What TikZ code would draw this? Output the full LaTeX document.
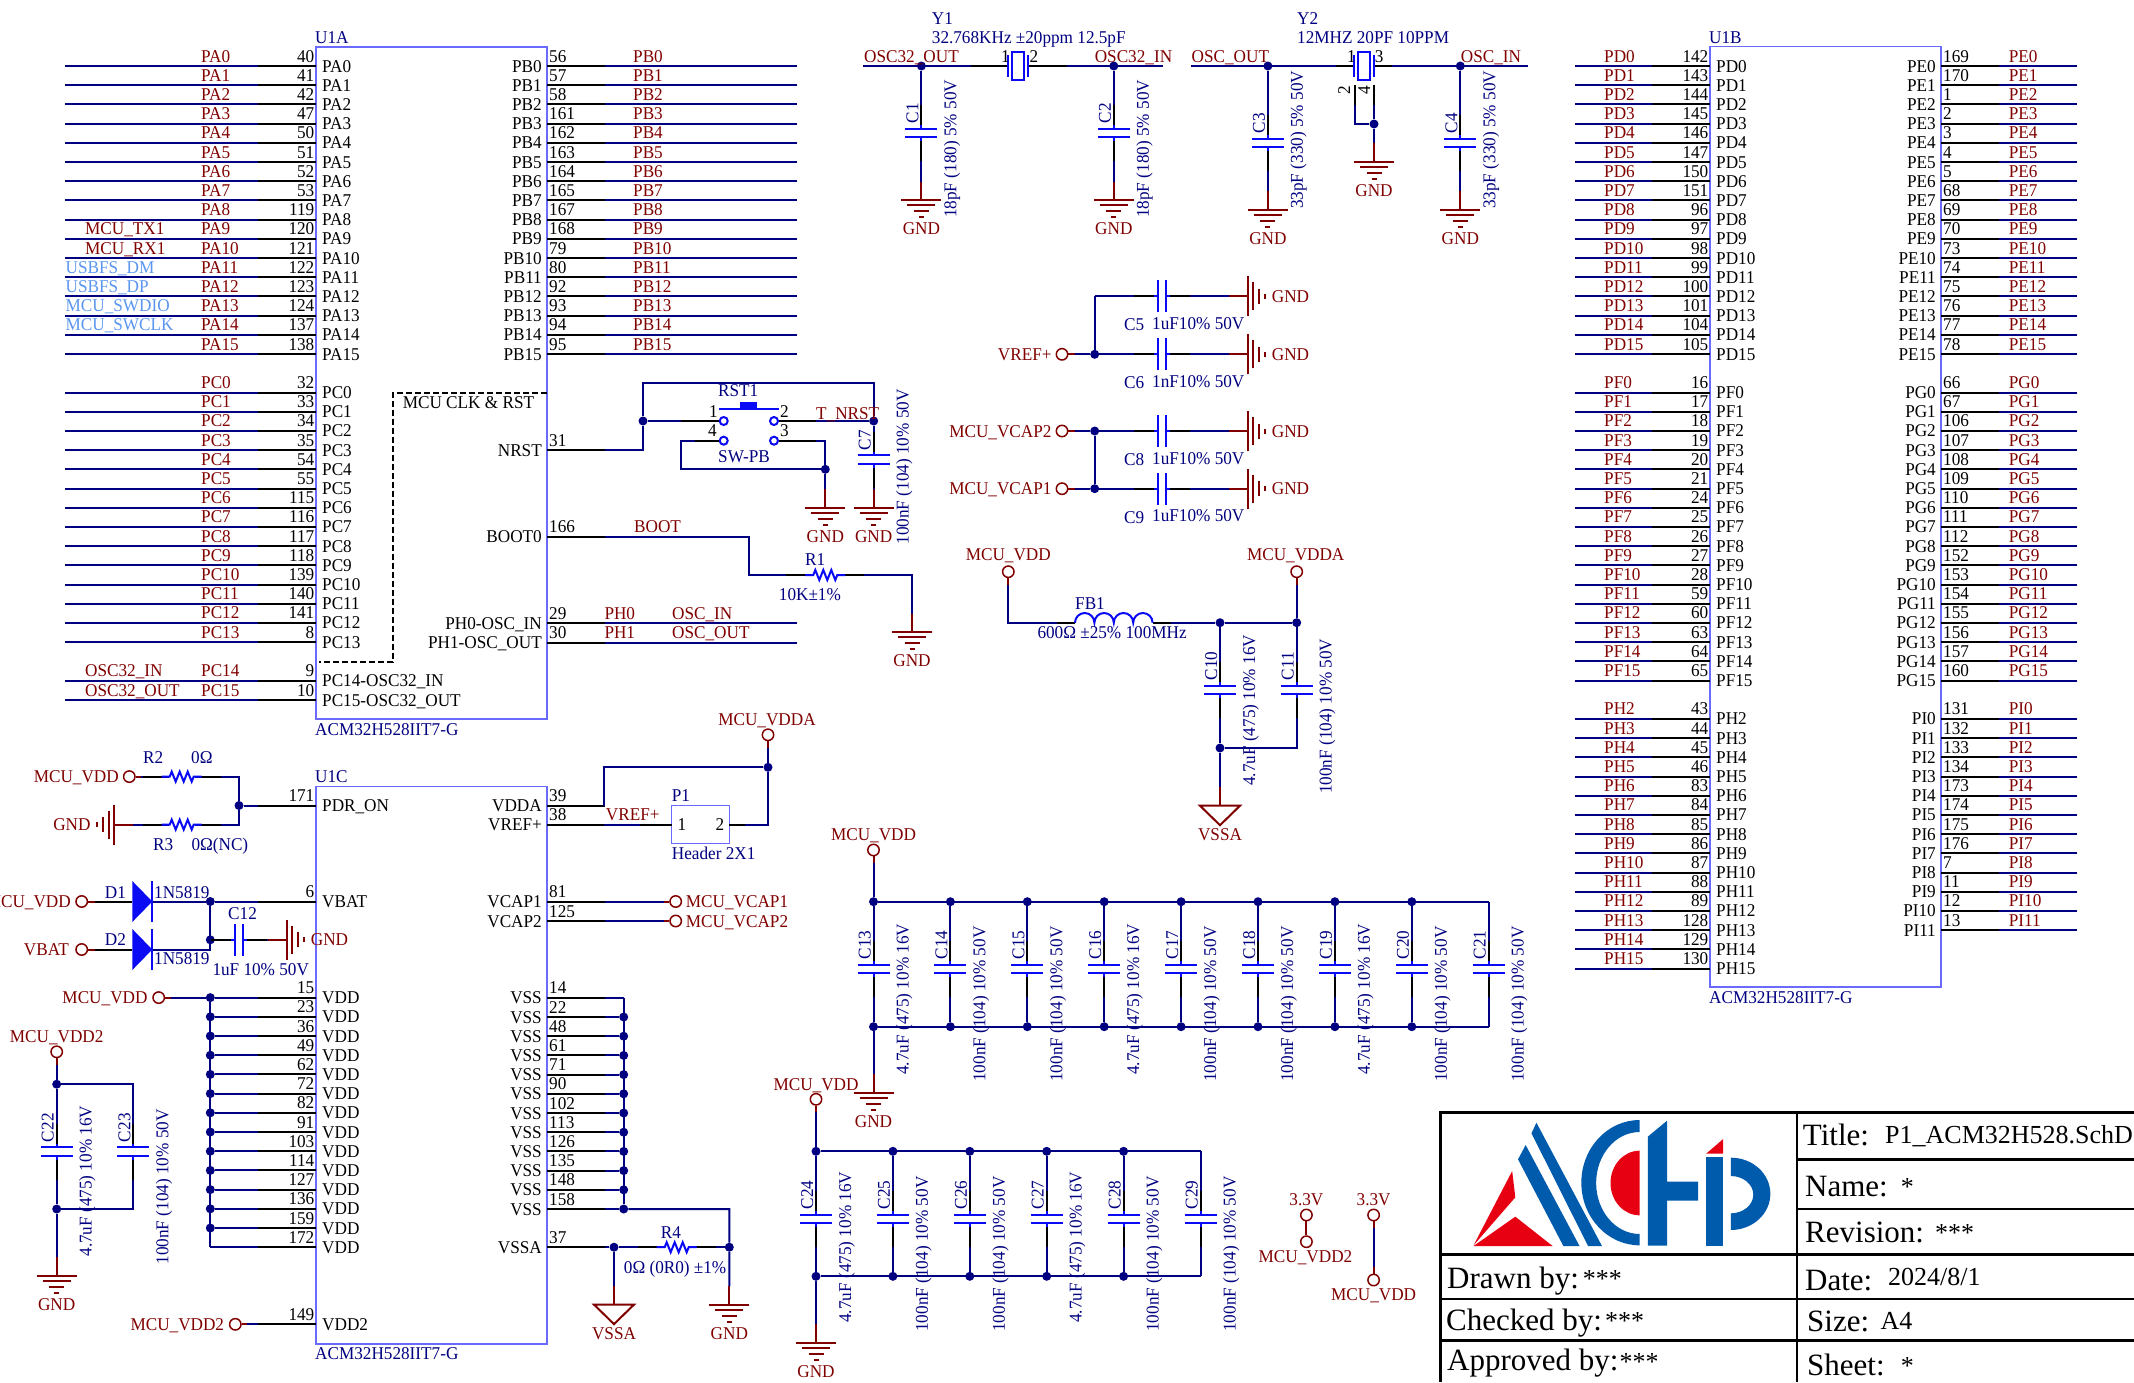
\documentclass[tikz,border=0pt]{standalone}
\usepackage{fontspec}
\setmainfont[FakeStretch=0.955]{Liberation Serif}
\newfontfamily\titlefont{Liberation Serif}
\definecolor{wirec}{HTML}{000080}
\definecolor{netc}{HTML}{800000}
\definecolor{partc}{HTML}{0A0AF5}
\definecolor{chipc}{HTML}{6A6AFF}
\definecolor{sigc}{HTML}{5A96F0}
\definecolor{logob}{HTML}{005BAC}
\definecolor{logor}{HTML}{E60012}
\newcommand\schfont{\fontsize{18}{20}\selectfont}
\newcommand\capA{4.7uF (475) 10\% 16V}
\newcommand\capB{100nF (104) 10\% 50V}
\tikzset{
  wire/.style={wirec,line width=2pt},
  lead/.style={black,line width=2pt},
  portw/.style={netc,line width=2pt},
  part/.style={partc,line width=2pt},
  chip/.style={chipc,line width=1.5pt},
  frame/.style={black,line width=2.5pt},
  txt/.style={font=\schfont,inner sep=0pt},
  netl/.style={txt,text=netc},
  desig/.style={txt,text=wirec},
  pinl/.style={txt,text=black},
  bw/.style={anchor=base west},
  be/.style={anchor=base east},
  bc/.style={anchor=base},
  upt/.style={rotate=90,anchor=base west},
  junc/.style={circle,fill=wirec,inner sep=0pt,minimum size=9pt},
  port/.style={circle,draw=netc,line width=1.5pt,inner sep=0pt,minimum size=11.4pt},
  swpin/.style={circle,draw=partc,line width=2pt,inner sep=0pt,minimum size=8pt},
  titl/.style={inner sep=0pt,font=\titlefont\fontsize{31}{33}\selectfont,bw},
  tval/.style={inner sep=0pt,font=\titlefont\fontsize{26}{28}\selectfont,bw},
  gnd/.pic={
    \draw[portw] (0,-19) -- (0,0);
    \draw[portw] (-20,0) -- (20,0) (-14,5) -- (14,5) (-7.5,11) -- (7.5,11) (-2.5,17) -- (2.5,17);},
  vssa/.pic={
    \draw[portw] (0,-19) -- (0,0);
    \draw[portw] (-20,0) -- (20,0) -- (0,19.5) -- cycle;},
  capv/.pic={
    \fill[white] (-8,-3.4) rectangle (8,3.4);
    \draw[lead] (0,-28) -- (0,-8) (0,8) -- (0,28);
    \draw[part] (-16,-4.3) -- (16,-4.3) (-16,4.3) -- (16,4.3) (0,-8) -- (0,-4.3) (0,4.3) -- (0,8);},
  res/.pic={
    \fill[white] (-13,-6) rectangle (13,6);
    \draw[lead] (-39,0) -- (-20,0) (20,0) -- (39,0);
    \draw[part] (-20,0) -- (-12,0) -- (-10,-5) -- (-6,5) -- (-2,-5) -- (2,5) -- (6,-5) -- (10,5) -- (12,0) -- (20,0);},
  xtal/.pic={
    \fill[white] (-9,-13) rectangle (9,13);
    \draw[part] (-9.6,-11) -- (-9.6,11) (9.6,-11) -- (9.6,11) (-6,-14) rectangle (6,14);},
  diode/.pic={
    \fill[partc] (0,-20.5) -- (20,0) -- (0,20.5) -- cycle;
    \draw[part] (20,-20.5) -- (20,20.5);},
}
% left side pin of the chip: box x, y, number, name
\newcommand\lpin[4]{
  \coordinate (c#3) at (#1,#2);
  \coordinate (k#3) at (#1-58,#2);
  \draw[lead] (k#3) -- (c#3);
  \node[pinl,be] (p#3) at (#1-1.5,#2-4) {#3};
  \node[pinl,bw] (s#3) at (#1+6,#2+6) {#4};}
\newcommand\rpin[4]{
  \coordinate (c#3) at (#1,#2);
  \coordinate (k#3) at (#1+58,#2);
  \draw[lead] (k#3) -- (c#3);
  \node[pinl,bw] (p#3) at (#1+2,#2-4) {#3};
  \node[pinl,be] (s#3) at (#1-5,#2+6) {#4};}
% a row of pins: box x, wire end, label x, first y, list
\newcommand\lbus[5]{\foreach \net/\num [count=\k from 0] in {#5}{
  \pgfmathsetmacro\yy{#4+19.2*\k}
  \lpin{#1}{\yy}{\num}{\net}
  \draw[wire] (k\num) -- (#2,\yy);
  \node[netl,bw] (n\num) at (#3,\yy-4) {\net};}}
\newcommand\rbus[5]{\foreach \net/\num [count=\k from 0] in {#5}{
  \pgfmathsetmacro\yy{#4+19.2*\k}
  \rpin{#1}{\yy}{\num}{\net}
  \draw[wire] (k\num) -- (#2,\yy);
  \node[netl,bw] (n\num) at (#3,\yy-4) {\net};}}
\newcommand\gndv[3]{
  \coordinate (#1) at (#2,#3);
  \pic at (#1) {gnd};
  \node[netl,bc] (#1t) at (#2,#3+34.5) {GND};}
\newcommand\vssav[3]{
  \coordinate (#1) at (#2,#3);
  \pic at (#1) {vssa};
  \node[netl,bc] (#1t) at (#2,#3+35) {VSSA};}
% x, y, name, value, how far the value runs down
\newcommand\vcap[5]{
  \pic at (#1,#2) {capv};
  \node[desig,upt] (#3) at (#1-3,#2-9.5) {#3};
  \node[desig,upt] (v#3) at (#1+35,#2+#5) {#4};}
% the sideways ones, to GND on the right
\newcommand\hcap[3]{
  \coordinate (w#1) at (1094.7,#2);
  \coordinate (g#1) at (1248,#2);
  \draw[wire] (w#1) -- (g#1);
  \pic[rotate=90] at (1162,#2) {capv};
  \pic[rotate=90] at (g#1) {gnd};
  \node[netl,bw] (g#1t) at (1271.7,#2+6) {GND};
  \node[desig,bw] (#1) at (1124,#2+34.4) {#1};
  \node[desig,bw] (v#1) at (1152,#2+33) {#3};}
\begin{document}
\begin{tikzpicture}[x=1pt,y=-1pt]
\useasboundingbox (0,0) rectangle (2134,1382);

% U1A
\draw[chip] (316,47) rectangle (547,719);
\node[desig,bw] (u1a) at (315,43) {U1A};
\node[desig,bw] (u1an) at (315,735) {ACM32H528IIT7-G};
\lbus{316}{65.4}{201}{66}{PA0/40,PA1/41,PA2/42,PA3/47,PA4/50,PA5/51,PA6/52,PA7/53,PA8/119,PA9/120,PA10/121,PA11/122,PA12/123,PA13/124,PA14/137,PA15/138}
\lbus{316}{65.4}{201}{392.5}{PC0/32,PC1/33,PC2/34,PC3/35,PC4/54,PC5/55,PC6/115,PC7/116,PC8/117,PC9/118,PC10/139,PC11/140,PC12/141,PC13/8}
\rbus{547}{797}{633}{66}{PB0/56,PB1/57,PB2/58,PB3/161,PB4/162,PB5/163,PB6/164,PB7/165,PB8/167,PB9/168,PB10/79,PB11/80,PB12/92,PB13/93,PB14/94,PB15/95}
\lpin{316}{680.7}{9}{PC14-OSC32\_IN}
\lpin{316}{700}{10}{PC15-OSC32\_OUT}
\draw[wire] (k9) -- (65.4,680.7);
\draw[wire] (k10) -- (65.4,700);
\node[netl,bw] (n9) at (201,676.7) {PC14};
\node[netl,bw] (n10) at (201,696) {PC15};
\node[netl,bw] (osc32i) at (85,676.7) {OSC32\_IN};
\node[netl,bw] (osc32o) at (85,696) {OSC32\_OUT};
\node[netl,bw] (tx1) at (85,234.8) {MCU\_TX1};
\node[netl,bw] (rx1) at (85,254) {MCU\_RX1};
\foreach \sig [count=\k from 11] in {USBFS\_DM,USBFS\_DP,MCU\_SWDIO,MCU\_SWCLK}{
  \node[txt,text=sigc,bw] (sig\k) at (65.4,62+19.2*\k) {\sig};}

\coordinate (da) at (547,392.7);
\coordinate (db) at (393,392.7);
\coordinate (dc) at (393,661.7);
\coordinate (dd) at (319,661.7);
\draw[lead,dash pattern=on 6pt off 3pt] (da) -- (db) -- (dc) -- (dd);
\node[pinl,bw] (clkrst) at (402.6,408) {MCU CLK \& RST};

% reset and boot
\rpin{547}{450}{31}{NRST}
\rpin{547}{536.7}{166}{BOOT0}
\rpin{547}{623.3}{29}{PH0-OSC\_IN}
\rpin{547}{642.5}{30}{PH1-OSC\_OUT}
\draw[wire] (k29) -- (797,623.3);
\draw[wire] (k30) -- (797,642.5);
\node[netl,bw] (ph0) at (604.3,619.3) {PH0};
\node[netl,bw] (ph1) at (604.3,638.5) {PH1};
\node[netl,bw] (oscin) at (672,619.3) {OSC\_IN};
\node[netl,bw] (oscout) at (672,638.5) {OSC\_OUT};
\node[netl,bw] (boot) at (634,532.7) {BOOT};

\node[junc] (jn) at (643,421) {};
\node[junc] (jr) at (873.7,421) {};
\node[junc] (js) at (825.3,469.3) {};
\coordinate (nt) at (873.7,382.7);
\coordinate (sl) at (681.3,469.3);
\node[swpin] (sw1) at (723.7,421) {};
\node[swpin] (sw2) at (774,421) {};
\node[swpin] (sw3) at (774,440.7) {};
\node[swpin] (sw4) at (723.7,440.7) {};
\gndv{g7a}{825.3}{507.7}
\gndv{g7b}{873.7}{507.7}
\draw[wire] (k31) -| (jn);
\draw[wire] (jn) |- (nt) -- (jr);
\draw[wire] (jn) -- (sw1);
\draw[wire] (sw2) -- (jr);
\draw[wire] (sw4) -| (sl) -- (js);
\draw[wire] (sw3) -| (js);
\draw[wire] (js) -- (825.3,489);
\draw[wire] (jr) -- (873.7,489);
\draw[lead] (681.3,421) -- (sw1);
\draw[lead] (sw2) -- (816,421);
\draw[lead] (sw3) -- (816,440.7);
\draw[lead] (sw4) -- (695,440.7);
\draw[part] (719,408.7) -- (778.7,408.7);
\fill[partc] (740,401.7) rectangle (757.3,408);
\node[desig,bw] (rst1) at (718,396) {RST1};
\node[desig,bw] (swpb) at (718,462) {SW-PB};
\node[pinl,be] (sn1) at (718,417.7) {1};
\node[pinl,bw] (sn2) at (780,417.7) {2};
\node[pinl,be] (sn4) at (717,436.7) {4};
\node[pinl,bw] (sn3) at (780,436.7) {3};
\node[netl,bw] (tnrst) at (816,419) {T\_NRST};
\vcap{873.7}{459.7}{C7}{\capB}{85}

\coordinate (b1) at (749,536.7);
\coordinate (b2) at (749,575);
\coordinate (b3) at (912,575);
\gndv{g1}{912}{632.3}
\draw[wire] (k166) -- (b1) -- (b2) -- (b3) -- (912,614);
\pic at (825.3,575) {res};
\node[desig,bw] (r1) at (805,565) {R1};
\node[desig,bw] (r1v) at (778.7,600) {10K±1\%};

% crystals
\node[desig,bw] (y1) at (931.7,24) {Y1};
\node[desig,bw] (y1v) at (931.7,43.3) {32.768KHz ±20ppm 12.5pF};
\node[desig,bw] (y2) at (1297,24) {Y2};
\node[desig,bw] (y2v) at (1297,43.3) {12MHZ 20PF 10PPM};
\node[junc] (j1) at (921.4,66) {};
\node[junc] (j2) at (1113.8,66) {};
\node[junc] (j3) at (1267.9,66) {};
\node[junc] (j4) at (1460.3,66) {};
\node[junc] (j5) at (1374,124) {};
\draw[wire] (863.4,66) -- (1162.5,66);
\draw[wire] (1190.6,66) -- (1527.7,66);
\draw[lead] (970.5,66) -- (1066.5,66);
\draw[lead] (1335.7,66) -- (1392.4,66);
\pic at (1018,66) {xtal};
\pic at (1364,66) {xtal};
\node[pinl,bw] (y1a) at (1001,62) {1};
\node[pinl,bw] (y1b) at (1029.5,62) {2};
\node[pinl,bw] (y2a) at (1347,62) {1};
\node[pinl,bw] (y2b) at (1374.6,62) {3};
\node[netl,bw] (ly1a) at (864,62) {OSC32\_OUT};
\node[netl,bw] (ly1b) at (1094.6,62) {OSC32\_IN};
\node[netl,bw] (ly2a) at (1191.5,62) {OSC\_OUT};
\node[netl,bw] (ly2b) at (1460.7,62) {OSC\_IN};
\coordinate (y2l) at (1354.5,85);
\coordinate (y2c) at (1354.5,124);
\coordinate (y2r) at (1374,85);
\draw[wire] (y2l) -- (y2c) -- (j5);
\draw[wire] (y2r) -- (j5) -- (1374,143);
\draw[lead] (y2l) -- (1354.5,105);
\draw[lead] (y2r) -- (1374,105);
\node[pinl,upt] (y2d) at (1350,95) {2};
\node[pinl,upt] (y2e) at (1370,95) {4};
\gndv{g2}{1374}{162.3}
\gndv{g3}{921.4}{200.3}
\gndv{g4}{1113.8}{200.3}
\gndv{g5}{1267.9}{210}
\gndv{g6}{1460.3}{210}
\draw[wire] (j1) -- (921.4,182);
\draw[wire] (j2) -- (1113.8,182);
\draw[wire] (j3) -- (1267.9,191);
\draw[wire] (j4) -- (1460.3,191);
\vcap{921.4}{133}{C1}{18pF (180) 5\% 50V}{85}
\vcap{1113.8}{133}{C2}{18pF (180) 5\% 50V}{85}
\vcap{1267.9}{143}{C3}{33pF (330) 5\% 50V}{66}
\vcap{1460.3}{143}{C4}{33pF (330) 5\% 50V}{66}

% reference and vcap capacitors
\hcap{C5}{296.3}{1uF10\% 50V}
\hcap{C6}{354.3}{1nF10\% 50V}
\hcap{C8}{431}{1uF10\% 50V}
\hcap{C9}{488.7}{1uF10\% 50V}
\node[port] (pvref) at (1062,354.3) {};
\node[port] (pcap2) at (1062,431) {};
\node[port] (pcap1) at (1062,488.7) {};
\node[junc] (jvr) at (1094.7,354.3) {};
\node[junc] (jc2) at (1094.7,431) {};
\node[junc] (jc1) at (1094.7,488.7) {};
\draw[wire] (pvref) -- (jvr) -- (wC5);
\draw[wire] (pcap2) -- (jc2) -- (jc1);
\draw[wire] (pcap1) -- (jc1);
\foreach \p in {pvref,pcap2,pcap1}{\draw[portw] (\p) -- +(13,0);}
\node[netl,be] (lvref) at (1051.7,360.3) {VREF+};
\node[netl,be] (lcap2) at (1051.7,437) {MCU\_VCAP2};
\node[netl,be] (lcap1) at (1051.7,494.7) {MCU\_VCAP1};

% ferrite bead
\node[port] (pvdd) at (1008.3,571.7) {};
\node[port] (pvdda) at (1296.7,571.7) {};
\node[netl,bc] (lvdd) at (1008.3,560.7) {MCU\_VDD};
\node[netl,bc] (lvdda) at (1295.7,560.7) {MCU\_VDDA};
\coordinate (fb) at (1008.3,622.7);
\node[junc] (jf1) at (1220,622.7) {};
\node[junc] (jf2) at (1296.7,622.7) {};
\node[junc] (jf3) at (1220,748) {};
\coordinate (jf4) at (1296.7,748);
\draw[wire] (pvdd) -- (fb) -- (1075,622.7);
\draw[wire] (1152.7,622.7) -- (jf1) -- (jf2) -- (pvdda);
\draw[wire] (jf1) -- (jf3) -- (jf4) -- (jf2);
\draw[wire] (jf3) -- (1220,787);
\draw[lead] (1057,622.7) -- (1075,622.7);
\draw[lead] (1152.7,622.7) -- (1171,622.7);
\draw[portw] (pvdd) -- +(0,13);
\draw[portw] (pvdda) -- +(0,13);
\draw[part] (1075,622.7) arc[start angle=180,end angle=360,radius=9.7] arc[start angle=180,end angle=360,radius=9.7] arc[start angle=180,end angle=360,radius=9.7] arc[start angle=180,end angle=360,radius=9.7];
\node[desig,bw] (fb1) at (1075,609.3) {FB1};
\node[desig,bw] (fb1v) at (1037.3,638.3) {600Ω ±25\% 100MHz};
\vcap{1220}{690}{C10}{\capA}{96}
\vcap{1296.7}{690}{C11}{\capB}{104}
\vssav{vs1}{1220}{805.7}

% decoupling, first row
\node[port] (pvc) at (873.5,850) {};
\node[netl,bc] (lvc) at (873.5,840) {MCU\_VDD};
\foreach \n/\val/\off [count=\k from 0] in {13/\capA/106,14/\capB/113,15/\capB/113,16/\capA/106,17/\capB/113,18/\capB/113,19/\capA/106,20/\capB/113,21/\capB/113}{
  \pgfmathsetmacro\xx{873.5+76.9*\k}
  \ifnum\k<8
    \node[junc] (t\n) at (\xx,901.7) {};
    \node[junc] (b\n) at (\xx,1026.7) {};
  \else
    \coordinate (t\n) at (\xx,901.7);
    \coordinate (b\n) at (\xx,1026.7);
  \fi
  \draw[wire] (t\n) -- (b\n);
  \vcap{\xx}{968.8}{C\n}{\val}{\off}}
\draw[wire] (pvc) -- (t13) -- (t21);
\draw[wire] (b13) -- (b21);
\draw[portw] (pvc) -- +(0,13);
\draw[wire] (b13) -- (873.5,1075);
\gndv{g8}{873.5}{1093.3}

% decoupling, second row
\node[port] (pvb) at (816,1099.3) {};
\node[netl,bc] (lvb) at (816,1090) {MCU\_VDD};
\foreach \n/\val/\off [count=\k from 0] in {24/\capA/104,25/\capB/113,26/\capB/113,27/\capA/104,28/\capB/113,29/\capB/113}{
  \pgfmathsetmacro\xx{816+76.9*\k}
  \ifnum\k<5
    \node[junc] (t\n) at (\xx,1151.3) {};
    \node[junc] (b\n) at (\xx,1276.3) {};
  \else
    \coordinate (t\n) at (\xx,1151.3);
    \coordinate (b\n) at (\xx,1276.3);
  \fi
  \draw[wire] (t\n) -- (b\n);
  \vcap{\xx}{1218.8}{C\n}{\val}{\off}}
\draw[wire] (pvb) -- (t24) -- (t29);
\draw[wire] (b24) -- (b29);
\draw[portw] (pvb) -- +(0,13);
\draw[wire] (b24) -- (816,1325);
\gndv{g9}{816}{1343.3}

% 3.3V links
\node[port] (pa3) at (1306.4,1215) {};
\node[port] (pb3) at (1306.4,1241.7) {};
\node[port] (pc3) at (1373.6,1215) {};
\node[port] (pd3) at (1373.6,1280) {};
\draw[portw] (pa3) -- (pb3);
\draw[wire] (pc3) -- (pd3);
\draw[portw] (pc3) -- +(0,13);
\draw[portw] (pd3) -- +(0,-13);
\node[netl,bc] (la3) at (1306.4,1205) {3.3V};
\node[netl,bc] (lc3) at (1373.6,1205) {3.3V};
\node[netl,bc] (lb3) at (1305.5,1262.7) {MCU\_VDD2};
\node[netl,bc] (ld3) at (1373.6,1300.7) {MCU\_VDD};

% U1C
\draw[chip] (316,786.4) rectangle (547,1343.8);
\node[desig,bw] (u1c) at (315,782) {U1C};
\node[desig,bw] (u1cn) at (315,1359.4) {ACM32H528IIT7-G};
\lpin{316}{805.5}{171}{PDR\_ON}
\lpin{316}{901.5}{6}{VBAT}
\lpin{316}{1324.3}{149}{VDD2}
\node[junc] (jp) at (239,805.5) {};
\node[port] (pr2) at (129.3,776.6) {};
\coordinate (r2e) at (239,776.6);
\coordinate (r3e) at (239,824.6);
\coordinate (r3g) at (114,824.6);
\draw[wire] (pr2) -- (r2e) -- (jp) -- (r3e) -- (r3g);
\draw[wire] (jp) -- (k171);
\draw[portw] (pr2) -- +(12,0);
\pic at (181.7,776.6) {res};
\pic at (181.7,824.6) {res};
\pic[rotate=-90] at (r3g) {gnd};
\node[netl,be] (lr2) at (119,782.6) {MCU\_VDD};
\node[netl,be] (lr3) at (90.7,830.6) {GND};
\node[desig,bw] (r2) at (143,763) {R2};
\node[desig,bw] (r2v) at (191,763) {0Ω};
\node[desig,bw] (r3) at (153,850) {R3};
\node[desig,bw] (r3v) at (191.3,850) {0Ω(NC)};

\node[port] (pd1) at (81.7,901.5) {};
\node[port] (pd2) at (81.7,949.5) {};
\node[junc] (jv1) at (210.3,901.5) {};
\node[junc] (jv2) at (210.3,939.8) {};
\coordinate (d1c) at (152.3,901.5);
\coordinate (d2c) at (152.3,949.5);
\coordinate (g12) at (286.7,939.8);
\draw[wire] (d1c) -- (jv1) -- (k6);
\draw[wire] (d2c) -| (jv1);
\draw[wire] (jv2) -- (g12);
\draw[lead] (pd1) -- (132.3,901.5);
\draw[lead] (pd2) -- (132.3,949.5);
\draw[portw] (pd1) -- +(13,0);
\draw[portw] (pd2) -- +(13,0);
\pic at (132.3,901.5) {diode};
\pic at (132.3,949.5) {diode};
\pic[rotate=90] at (239,939.8) {capv};
\pic[rotate=90] at (g12) {gnd};
\node[netl,be] (ld1) at (71,907.5) {MCU\_VDD};
\node[netl,be] (ld2) at (69,955.5) {VBAT};
\node[netl,bw] (lg12) at (310.7,945.8) {GND};
\node[desig,bw] (d1) at (104.7,898) {D1};
\node[desig,bw] (d2) at (104.7,945.6) {D2};
\node[desig,bw] (d1v) at (154,898) {1N5819};
\node[desig,bw] (d2v) at (154,964.4) {1N5819};
\node[desig,bw] (c12) at (228,919) {C12};
\node[desig,bw] (c12v) at (212.3,975) {1uF 10\% 50V};

% VDD pins
\node[port] (pvd) at (158.7,997.6) {};
\node[netl,be] (lvd) at (147.7,1003.6) {MCU\_VDD};
\foreach \num [count=\k from 0] in {15,23,36,49,62,72,82,91,103,114,127,136,159,172}{
  \pgfmathsetmacro\yy{997.6+19.2*\k}
  \lpin{316}{\yy}{\num}{VDD}
  \ifnum\k<13
    \node[junc] (d\num) at (210.3,\yy) {};
  \else
    \coordinate (d\num) at (210.3,\yy);
  \fi
  \draw[wire] (d\num) -- (k\num);}
\draw[wire] (d15) -- (d172);
\draw[wire] (pvd) -- (d15);
\draw[portw] (pvd) -- +(12,0);

\node[port] (pv2) at (235.3,1324.3) {};
\node[netl,be] (lv2) at (224.3,1330.3) {MCU\_VDD2};
\draw[wire] (pv2) -- (k149);
\draw[portw] (pv2) -- +(12,0);

\node[port] (pl) at (56.7,1051.8) {};
\node[netl,bc] (ll) at (56.7,1042) {MCU\_VDD2};
\node[junc] (jl1) at (56.7,1084.2) {};
\node[junc] (jl2) at (56.7,1209) {};
\coordinate (jl3) at (133.3,1084.2);
\coordinate (jl4) at (133.3,1209);
\draw[wire] (pl) -- (jl1) -- (jl2) -- (56.7,1258);
\draw[wire] (jl1) -- (jl3) -- (jl4) -- (jl2);
\draw[portw] (pl) -- +(0,13);
\vcap{56.7}{1151.7}{C22}{\capA}{105}
\vcap{133.3}{1151.7}{C23}{\capB}{113}
\gndv{g10}{56.7}{1276}

% right side of U1C
\rpin{547}{805.7}{39}{VDDA}
\rpin{547}{824.7}{38}{VREF+}
\rpin{547}{901.5}{81}{VCAP1}
\rpin{547}{921}{125}{VCAP2}
\node[port] (pda) at (768,734.8) {};
\node[netl,bc] (lda) at (767,725) {MCU\_VDDA};
\node[junc] (jda) at (768,767.3) {};
\coordinate (da1) at (604,767.3);
\coordinate (da2) at (768,824.7);
\draw[chip] (671.7,805.7) rectangle (729.3,843.7);
\coordinate (p1r) at (729.3,824.7);
\coordinate (p1l) at (671.7,824.7);
\draw[wire] (pda) -- (jda) -- (da2) -- (p1r);
\draw[wire] (jda) -- (da1) -- (604,805.7);
\draw[lead] (k38) -- (p1l);
\draw[wire] (604,824.7) -- (640,824.7);
\draw[lead] (p1r) -- (745,824.7);
\draw[portw] (pda) -- +(0,13);
\node[netl,bw] (lvr) at (605.7,820.7) {VREF+};
\node[desig,bw] (p1) at (671.7,801) {P1};
\node[desig,bw] (p1v) at (671.7,859) {Header 2X1};
\node[pinl,bc] (p1a) at (682,830.6) {1};
\node[pinl,bc] (p1b) at (720,830.6) {2};
\node[port] (pv1) at (675.7,901.5) {};
\node[port] (pv3) at (675.7,921) {};
\draw[wire] (k81) -- (pv1);
\draw[wire] (k125) -- (pv3);
\draw[portw] (pv1) -- +(-12,0);
\draw[portw] (pv3) -- +(-12,0);
\node[netl,bw] (lv1) at (685.7,907.5) {MCU\_VCAP1};
\node[netl,bw] (lv3) at (685.7,927) {MCU\_VCAP2};

% VSS pins
\foreach \num [count=\k from 0] in {14,22,48,61,71,90,102,113,126,135,148,158}{
  \pgfmathsetmacro\yy{997.8+19.2*\k}
  \rpin{547}{\yy}{\num}{VSS}
  \ifnum\k>0
    \node[junc] (q\num) at (623.7,\yy) {};
  \else
    \coordinate (q\num) at (623.7,\yy);
  \fi
  \draw[wire] (k\num) -- (q\num);}
\draw[wire] (q14) -- (q158);
\rpin{547}{1247.2}{37}{VSSA}
\node[junc] (ja) at (614,1247.2) {};
\node[junc] (jb) at (729.3,1247.2) {};
\coordinate (qc) at (729.3,1209);
\draw[wire] (q158) -- (qc) -- (jb) -- (729.3,1286);
\draw[wire] (k37) -- (ja) -- (jb);
\draw[wire] (ja) -- (614,1286);
\pic at (676.7,1247.2) {res};
\vssav{vs2}{614}{1304.6}
\gndv{g11}{729.3}{1304.6}
\node[desig,bw] (r4) at (660.7,1238) {R4};
\node[desig,bw] (r4v) at (623.7,1273.8) {0Ω (0R0) ±1\%};

% U1B
\draw[chip] (1710,46.7) rectangle (1941,987);
\node[desig,bw] (u1b) at (1709,43) {U1B};
\node[desig,bw] (u1bn) at (1709,1003) {ACM32H528IIT7-G};
\lbus{1710}{1574.7}{1604}{66}{PD0/142,PD1/143,PD2/144,PD3/145,PD4/146,PD5/147,PD6/150,PD7/151,PD8/96,PD9/97,PD10/98,PD11/99,PD12/100,PD13/101,PD14/104,PD15/105}
\lbus{1710}{1574.7}{1604}{392.5}{PF0/16,PF1/17,PF2/18,PF3/19,PF4/20,PF5/21,PF6/24,PF7/25,PF8/26,PF9/27,PF10/28,PF11/59,PF12/60,PF13/63,PF14/64,PF15/65}
\lbus{1710}{1574.7}{1604}{718.9}{PH2/43,PH3/44,PH4/45,PH5/46,PH6/83,PH7/84,PH8/85,PH9/86,PH10/87,PH11/88,PH12/89,PH13/128,PH14/129,PH15/130}
\rbus{1941}{2076.5}{2008.7}{66}{PE0/169,PE1/170,PE2/1,PE3/2,PE4/3,PE5/4,PE6/5,PE7/68,PE8/69,PE9/70,PE10/73,PE11/74,PE12/75,PE13/76,PE14/77,PE15/78}
\rbus{1941}{2076.5}{2008.7}{392.5}{PG0/66,PG1/67,PG2/106,PG3/107,PG4/108,PG5/109,PG6/110,PG7/111,PG8/112,PG9/152,PG10/153,PG11/154,PG12/155,PG13/156,PG14/157,PG15/160}
\rbus{1941}{2076.5}{2008.7}{718.9}{PI0/131,PI1/132,PI2/133,PI3/134,PI4/173,PI5/174,PI6/175,PI7/176,PI8/7,PI9/11,PI10/12,PI11/13}

% title block
\draw[frame] (1440.3,1382) -- (1440.3,1112.3) -- (2134,1112.3);
\draw[frame] (1796.9,1112.3) -- (1796.9,1382);
\draw[frame] (1796.9,1159.3) -- (2134,1159.3) (1796.9,1209) -- (2134,1209);
\draw[frame] (1440.3,1254.3) -- (2134,1254.3);
\draw[frame] (1440.3,1299) -- (2134,1299);
\draw[frame] (1440.3,1340.7) -- (2134,1340.7);
\node[titl] (ttitle) at (1802.7,1145.7) {Title:};
\node[tval] (vtitle) at (1885,1143) {P1\_ACM32H528.SchD};
\node[titl] (tname) at (1805,1196) {Name:};
\node[tval] (vname) at (1900.6,1195) {*};
\node[titl] (trev) at (1805,1242.7) {Revision:};
\node[tval] (vrev) at (1935,1241.7) {***};
\node[titl] (tdate) at (1805,1290.7) {Date:};
\node[tval] (vdate) at (1888,1285) {2024/8/1};
\node[titl] (tsize) at (1807,1331.7) {Size:};
\node[tval] (vsize) at (1880.4,1329.3) {A4};
\node[titl] (tsheet) at (1807,1375) {Sheet:};
\node[tval] (vsheet) at (1900.6,1374) {*};
\node[titl] (tdrawn) at (1447,1288.3) {Drawn by:};
\node[tval] (vdrawn) at (1582.7,1287) {***};
\node[titl] (tcheck) at (1446,1330) {Checked by:};
\node[tval] (vcheck) at (1605,1329) {***};
\node[titl] (tappr) at (1447,1370.7) {Approved by:};
\node[tval] (vappr) at (1619.5,1370) {***};

% logo
\begin{scope}[shift={(1430,1100)},x=0.449pt,y=-0.3333pt]
\fill[logor] (183,213) -- (190,292) -- (97,436) -- cycle;
\fill[logor] (190,350) -- (273,438) -- (97,438) -- cycle;
\fill[logob] (237,68) -- (383,438) -- (352,438) -- (226,100) -- cycle;
\fill[logob] (213,135) -- (333,438) -- (297,438) -- (196,178) -- cycle;
\fill[logob] (467,60) arc[start angle=-90,end angle=-270,x radius=130,y radius=188] -- (467,402) arc[start angle=-270,end angle=-90,x radius=97,y radius=153] -- cycle;
\fill[logor] (467,152) arc[start angle=-90,end angle=-270,x radius=65,y radius=97] -- cycle;
\fill[logob] (528,62) -- (485,110) -- (485,437) -- (528,437) -- (528,302) -- (597,302) -- (597,245) -- (528,245) -- cycle;
\fill[logob] (615,172) rectangle (653,437);
\fill[logor] (653,117) -- (653,161) -- (615,161) -- cycle;
\fill[logob] (670,173) arc[start angle=-90,end angle=90,x radius=88,y radius=108.5] -- (670,340) arc[start angle=90,end angle=-90,x radius=50,y radius=56] -- cycle;
\end{scope}
\end{tikzpicture}
\end{document}
